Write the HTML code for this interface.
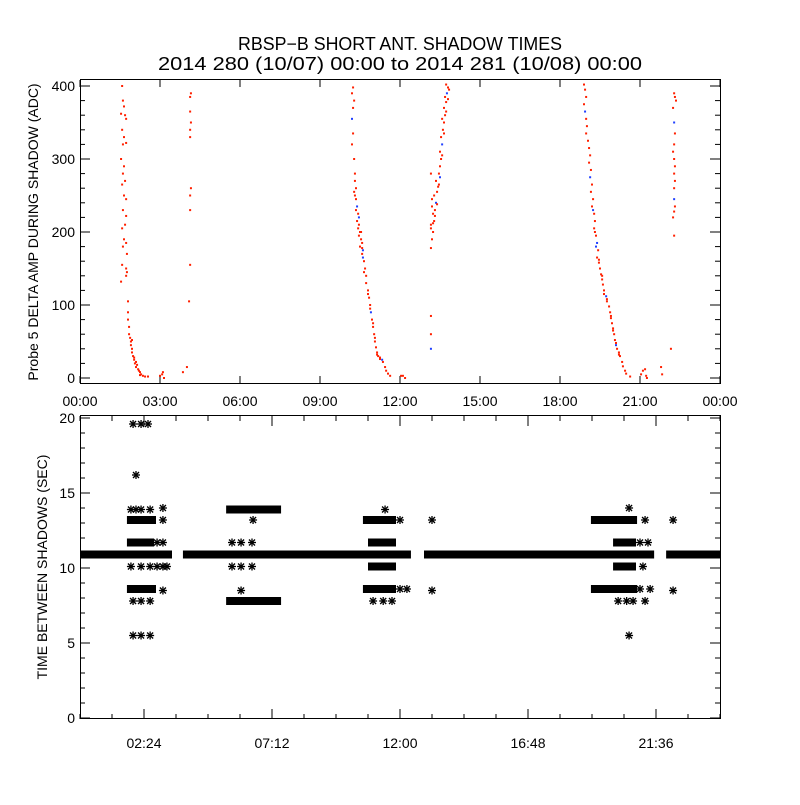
<!DOCTYPE html>
<html><head><meta charset="utf-8"><style>
html,body{margin:0;padding:0;background:#fff;}
svg text{font-family:"Liberation Sans",sans-serif;fill:#000;}
</style></head><body>
<svg id="chart" width="800" height="800" viewBox="0 0 800 800" xmlns="http://www.w3.org/2000/svg">
<rect x="0" y="0" width="800" height="800" fill="#fff"/>
<text x="400" y="50" font-size="18" text-anchor="middle" textLength="324" lengthAdjust="spacingAndGlyphs">RBSP−B SHORT ANT. SHADOW TIMES</text>
<text x="400" y="70" font-size="18" text-anchor="middle" textLength="484" lengthAdjust="spacingAndGlyphs">2014 280 (10/07) 00:00 to 2014 281 (10/08) 00:00</text>
<g id="topPanel"></g>
<g id="botPanel"></g>
<text transform="translate(38,232) rotate(-90)" font-size="14" text-anchor="middle">Probe 5 DELTA AMP DURING SHADOW (ADC)</text>
<text transform="translate(47,567) rotate(-90)" font-size="14" text-anchor="middle">TIME BETWEEN SHADOWS (SEC)</text>
</svg>
<script>
// ---- top panel data: [hour, ADC value] ----
const track1 = [[1.58,400],[1.61,380],[1.54,362],[1.65,372],[1.69,360],[1.73,355],[1.58,340],[1.65,330],[1.61,320],[1.73,322],[1.54,300],[1.65,290],[1.61,280],[1.69,270],[1.58,265],[1.65,250],[1.73,245],[1.61,230],[1.73,222],[1.69,210],[1.58,205],[1.65,190],[1.73,185],[1.61,180],[1.76,170],[1.58,155],[1.73,150],[1.76,145],[1.73,140],[1.54,132],
[1.8,105],[1.8,90],[1.8,80],[1.84,70],[1.84,60],[1.88,55],[1.91,50],[1.91,45],[1.95,40],[1.95,35],[1.99,30],[2.03,25],[2.06,20],[2.1,15],[2.18,12],[2.25,8],[2.29,5],[2.36,3],[2.44,2],[2.55,2],[2.14,18],[2.21,10],[1.95,52],[2.03,28],[2.1,22],[2.25,4],
[3.0,3],[3.08,5],[3.11,8],[3.15,0]];
const track1b = [[4.16,390],[4.13,385],[4.13,365],[4.16,350],[4.13,340],[4.13,330],[4.16,260],[4.13,250],[4.13,230],[4.13,155],[4.09,105],[4.01,15],[3.86,8]];
const track2 = [[10.24,398],[10.2,390],[10.28,380],[10.24,370],[10.2,355],[10.24,335],[10.2,320],[10.28,300],[10.31,280],[10.31,270],[10.35,260],[10.28,255],[10.35,245],[10.39,235],[10.43,225],[10.39,215],[10.46,210],[10.5,200],[10.46,195],[10.54,190],[10.58,185],[10.5,180],[10.61,175],[10.58,170],[10.65,160],[10.69,150],[10.73,140],[10.73,130],[10.8,120],[10.84,110],[10.88,100],[10.91,90],[10.95,80],[10.99,70],[11.03,60],[11.06,50],[11.1,42],[11.14,35],[11.18,30],[11.25,28],[11.33,25],[11.36,22],[11.44,15],[11.48,10],[11.55,6],[11.63,3],
[10.35,230],[10.43,205],[10.54,200],[10.61,165],[10.65,145],[10.8,115],[10.88,95],[10.99,75],[11.06,55],[11.14,32],[11.25,26],[10.31,250],[10.46,220],[10.58,178],
[12.04,3],[12.11,3],[12.19,0]];
const track3 = [[13.16,280],[13.16,205],[13.16,85],[13.16,60],[13.16,40],[13.16,178],[13.2,190],[13.24,200],[13.16,210],[13.28,215],[13.24,225],[13.31,230],[13.2,235],[13.35,240],[13.28,250],[13.39,255],[13.43,262],[13.35,270],[13.46,280],[13.5,290],[13.54,300],[13.5,310],[13.58,320],[13.54,330],[13.61,340],[13.65,350],[13.58,355],[13.69,360],[13.65,370],[13.73,378],[13.69,385],[13.76,390],[13.8,398],[13.73,402],[13.84,395],
[13.24,212],[13.31,222],[13.2,245],[13.39,238],[13.46,265],[13.5,275],[13.58,305],[13.65,335],[13.73,365],[13.8,382]];
const track4 = [[18.9,402],[18.94,395],[18.98,385],[18.9,375],[18.94,365],[18.98,355],[19.01,345],[18.98,335],[19.05,325],[19.09,315],[19.13,305],[19.09,295],[19.16,285],[19.13,275],[19.2,265],[19.16,255],[19.24,245],[19.2,235],[19.28,225],[19.31,215],[19.28,205],[19.35,195],[19.39,185],[19.43,175],[19.39,165],[19.46,158],[19.5,150],[19.54,142],[19.58,135],[19.61,128],[19.65,120],[19.73,112],[19.76,105],[19.84,98],[19.88,90],[19.91,82],[19.95,75],[19.99,68],[20.03,60],[20.06,52],[20.1,45],[20.14,40],[20.21,35],[20.25,30],[20.33,22],[20.36,16],[20.44,10],[20.48,6],[20.63,2],
[19.35,180],[19.46,162],[19.58,140],[19.65,115],[19.76,108],[19.91,85],[19.99,65],[20.1,48],[20.21,32],[19.24,230],[19.31,200],
[21.04,5],[21.11,10],[21.19,12],[21.23,3],[21.26,0]];
const track5 = [[22.28,390],[22.31,385],[22.35,380],[22.24,370],[22.28,350],[22.31,335],[22.28,320],[22.24,310],[22.28,300],[22.31,290],[22.28,280],[22.31,270],[22.28,260],[22.28,245],[22.31,235],[22.28,228],[22.24,220],[22.28,195],[22.16,40],[21.79,15],[21.83,5]];
const topTickLabels = ["00:00","03:00","06:00","09:00","12:00","15:00","18:00","21:00","00:00"];
const topYTicks = [0,100,200,300,400];

// ---- bottom panel data ----
// bands: [startHour, endHour, seconds]
const bands = [[0,2.7,10.9],[2.81,3.3,10.9],[4.01,11.74,10.9],[13.05,20.7,10.9],[20.93,21.38,10.9],[22.13,24,10.9],
[1.91,2.7,13.2],[1.91,2.63,11.7],[1.91,2.7,8.6],[5.63,7.39,13.9],[5.63,7.39,7.8],
[10.76,11.7,13.2],[10.95,11.7,11.7],[10.95,11.7,10.1],[10.76,11.7,8.6],[12.0,12.26,10.9],
[19.31,20.74,13.2],[20.14,20.7,11.7],[20.14,20.7,10.1],[19.31,20.74,8.6]];
// single stars: [hour, seconds]
const stars = [[1.99,19.6],[2.29,19.6],[2.55,19.6],[2.1,16.2],[1.91,13.9],[2.1,13.9],[2.29,13.9],[2.63,13.9],[3.11,14.0],[3.11,13.2],[2.89,11.7],[3.11,11.7],[1.91,10.1],[2.29,10.1],[2.63,10.1],[2.89,10.1],[3.11,10.1],[3.26,10.1],[3.11,8.5],[1.99,7.8],[2.29,7.8],[2.63,7.8],[1.99,5.5],[2.29,5.5],[2.63,5.5],
[6.49,13.2],[5.7,11.7],[6.04,11.7],[6.45,11.7],[5.7,10.1],[6.04,10.1],[6.45,10.1],[6.04,8.5],
[11.44,13.9],[12.0,13.2],[12.0,8.6],[12.26,8.6],[10.99,7.8],[11.37,7.8],[11.7,7.8],[13.2,13.2],[13.2,8.5],
[20.59,14.0],[21.19,13.2],[22.24,13.2],[21.0,11.7],[21.3,11.7],[21.11,10.1],[21.0,8.6],[21.38,8.6],[22.24,8.5],[20.18,7.8],[20.5,7.8],[20.74,7.8],[21.19,7.8],[20.59,5.5]];
const botTickLabels = ["02:24","07:12","12:00","16:48","21:36"];
const botYTicks = [0,5,10,15,20];

const NS = "http://www.w3.org/2000/svg";
const topG = document.getElementById('topPanel');
const botG = document.getElementById('botPanel');
function mk(tag, attrs, parent){const e=document.createElementNS(NS,tag);for(const k in attrs)e.setAttribute(k,attrs[k]);parent.appendChild(e);return e;}

const X0=80, X1=720;
const xT = h => X0 + h/24*(X1-X0);
const yT = v => 378 - v*0.73;
const yB = v => 718 - v*15;

// ---- top panel frame ----
let fr = mk('rect',{x:80.5,y:79.5,width:640,height:304,fill:'none',stroke:'#000','stroke-width':1},topG);


for(let i=0;i<=8;i++){
  const x=xT(i*3);
  let t=mk('line',{x1:x,x2:x,y1:383,y2:376,stroke:'#000'},topG);
  
  
  let t2=mk('line',{x1:x,x2:x,y1:80,y2:87,stroke:'#000'},topG);
  
  
  let l=mk('text',{x:x,y:406,'font-size':14,'text-anchor':'middle'},topG);
  l.textContent=topTickLabels[i];
  
  
}
for(let v=0; v<=400; v+=20){
  const y=yT(v), len=(v%100===0)?10:5;
  let a=mk('line',{x1:80,x2:80+len,y1:y,y2:y,stroke:'#000'},topG);
  
  
  let b=mk('line',{x1:720,x2:720-len,y1:y,y2:y,stroke:'#000'},topG);
  
  
}
topYTicks.forEach(v=>{
  let l=mk('text',{x:75,y:yT(v)+5,'font-size':14,'text-anchor':'end'},topG);
  l.textContent=String(v);
  
  
});
[track1,track1b,track2,track3,track4,track5].forEach((tr,ti)=>{
  tr.forEach((p,pi)=>{
    const d=mk('rect',{x:xT(p[0])-1,y:yT(p[1])-1,width:2,height:2,fill:(pi%9===4&&ti>1)?'#2040ff':'#ff2000'},topG);
    
    
  });
});

// ---- bottom panel frame ----
let fb = mk('rect',{x:80.5,y:415.5,width:640,height:303,fill:'none',stroke:'#000','stroke-width':1},botG);


for(let m=0; m<=1440; m+=72){
  const x=xT(m/60), major=(m%288===144);
  const len=major?10:5;
  let t=mk('line',{x1:x,x2:x,y1:719,y2:719-len,stroke:'#000'},botG);
  
  
  let t2=mk('line',{x1:x,x2:x,y1:416,y2:416+len,stroke:'#000'},botG);
  
  
}
botTickLabels.forEach((s,i)=>{
  const x=xT((144+i*288)/60);
  let l=mk('text',{x:x,y:748,'font-size':14,'text-anchor':'middle'},botG);
  l.textContent=s;
  
  
});
for(let v=0; v<=20; v+=1){
  const y=yB(v), len=(v%5===0)?10:5;
  let a=mk('line',{x1:80,x2:80+len,y1:y,y2:y,stroke:'#000'},botG);
  
  
  let b=mk('line',{x1:720,x2:720-len,y1:y,y2:y,stroke:'#000'},botG);
  
  
}
botYTicks.forEach(v=>{
  let l=mk('text',{x:75,y:yB(v)+5,'font-size':14,'text-anchor':'end'},botG);
  l.textContent=String(v);
  
  
});
function star(cx,cy){
  const g=mk('g',{stroke:'#000','stroke-width':1.3},botG);
  
  
  mk('line',{x1:cx-4,x2:cx+4,y1:cy,y2:cy},g);
  mk('line',{x1:cx,x2:cx,y1:cy-4,y2:cy+4},g);
  mk('line',{x1:cx-3,x2:cx+3,y1:cy-3,y2:cy+3},g);
  mk('line',{x1:cx-3,x2:cx+3,y1:cy+3,y2:cy-3},g);
}
bands.forEach(b=>{
  const x0=Math.max(80,xT(b[0])-4), x1=Math.min(720,xT(b[1])+4), y=yB(b[2]);
  const r=mk('rect',{x:x0,y:y-4,width:x1-x0,height:8,fill:'#000'},botG);
  
  
});
stars.forEach(s=>star(xT(s[0]),yB(s[1])));
</script>
</body></html>
